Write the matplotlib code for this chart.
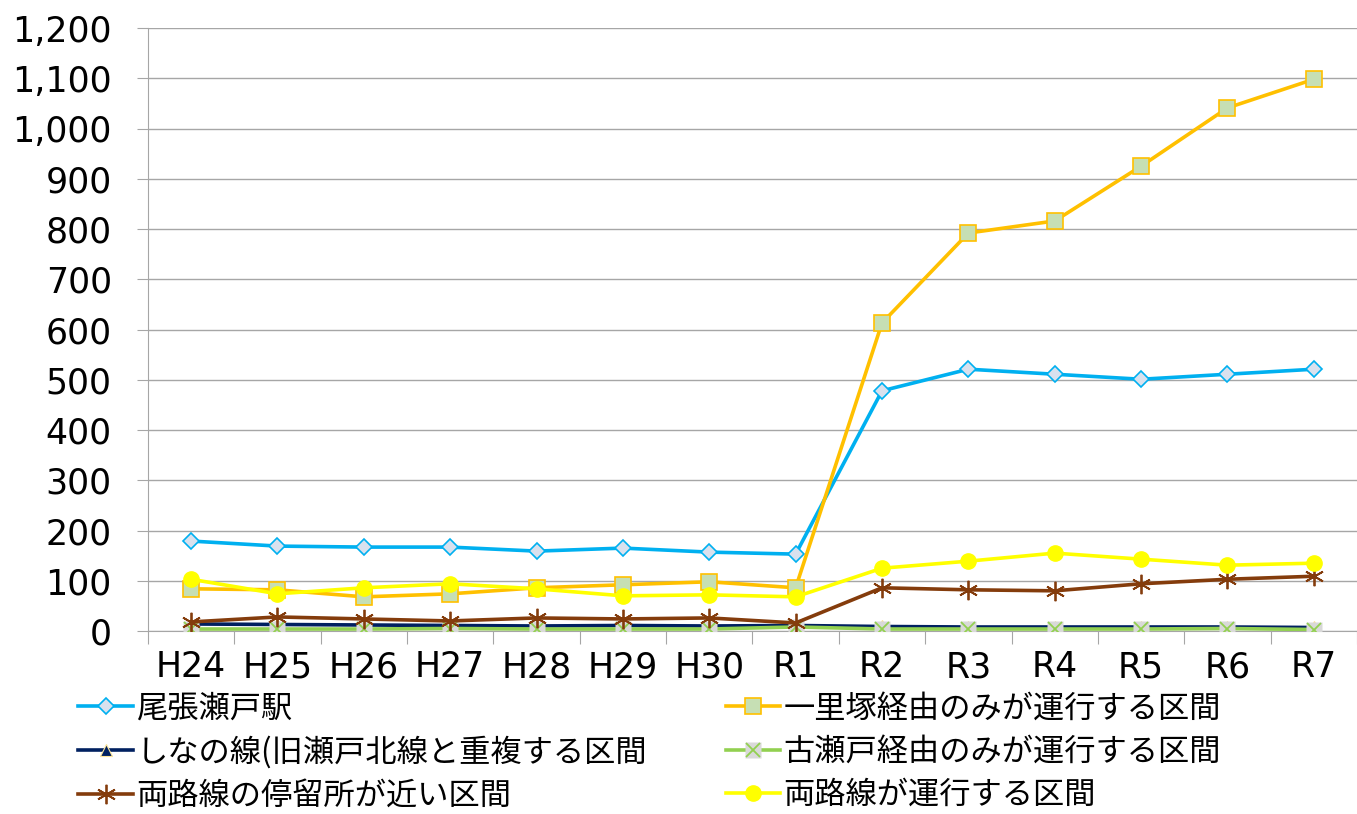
import matplotlib.pyplot as plt
from matplotlib.ticker import FuncFormatter, FixedLocator

plt.rcParams['font.family'] = ['Noto Sans CJK JP', 'DejaVu Sans']

years = ['H24', 'H25', 'H26', 'H27', 'H28', 'H29', 'H30',
         'R1', 'R2', 'R3', 'R4', 'R5', 'R6', 'R7']

owari_seto = [179, 169, 167, 167, 159, 165, 157, 153, 478, 521, 511, 501, 511, 521]
ichirizuka = [84, 82, 68, 74, 86, 92, 98, 86, 613, 792, 816, 925, 1041, 1098]
shinano = [14, 13, 12, 11, 10, 11, 10, 11, 9, 8, 8, 8, 8, 7]
koseto = [4, 4, 4, 5, 4, 4, 4, 8, 4, 4, 4, 4, 5, 3]
near_stops = [18, 28, 24, 20, 26, 24, 26, 16, 86, 82, 80, 94, 103, 109]
both_lines = [103, 74, 86, 94, 84, 70, 72, 68, 125, 139, 155, 143, 131, 135]

labels = ['尾張瀬戸駅', '一里塚経由のみが運行する区間',
          'しなの線(旧瀬戸北線と重複する区間', '古瀬戸経由のみが運行する区間',
          '両路線の停留所が近い区間', '両路線が運行する区間']

fig = plt.figure(figsize=(13.57, 8.14), dpi=100)
ax = fig.add_axes([0.109, 0.2248, 0.891, 0.7408])
x = list(range(len(years)))
lw = 2.6

h1, = ax.plot(x, owari_seto, color='#00b0f0', lw=lw, marker='D', ms=8,
              mfc='#d9e1ee', mec='#00b0f0', mew=1.2, zorder=5)
h2, = ax.plot(x, ichirizuka, color='#ffc000', lw=lw, marker='s', ms=11,
              mfc='#c6dfb4', mec='#ffc000', mew=1.2, zorder=5)
h3, = ax.plot(x, shinano, color='#002060', lw=lw, marker='^', ms=9,
              mfc='#002060', mec='#ffe699', mew=0.8, zorder=4)
h4a, = ax.plot(x, koseto, color='#92d050', lw=lw, marker='s', ms=12,
               mfc='#d9d9d9', mec='none', zorder=4)
h4b, = ax.plot(x, koseto, ls='none', marker='x', ms=10, mec='#92d050',
               mew=1.3, zorder=4)
h5, = ax.plot(x, near_stops, color='#843c0c', lw=lw, marker=(6, 2, 0), ms=14,
              mec='#843c0c', mew=1.3, zorder=5)
h6, = ax.plot(x, both_lines, color='#ffff00', lw=lw, marker='o', ms=11,
              mfc='#ffff00', mec='#ffff00', zorder=5)

ax.set_xlim(-0.5, len(years) - 0.5)
ax.set_ylim(0, 1200)
ax.set_yticks(range(0, 1201, 100))
ax.yaxis.set_major_formatter(FuncFormatter(lambda v, p: f'{int(v):,}'))
ax.grid(axis='y', color='#a6a6a6', lw=1)
ax.set_axisbelow(True)

ax.xaxis.set_major_locator(FixedLocator([i - 0.5 for i in range(len(years) + 1)]))
ax.xaxis.set_minor_locator(FixedLocator(x))
ax.set_xticklabels([])
ax.set_xticklabels(years, minor=True, family='DejaVu Sans')
ax.tick_params(axis='x', which='major', length=9, color='#a6a6a6')
ax.tick_params(axis='x', which='minor', length=0, pad=14, labelsize=25)
ax.tick_params(axis='y', length=8, color='#a6a6a6', labelsize=25, pad=18)
for t in ax.get_yticklabels():
    t.set_family('DejaVu Sans')

for s in ['top', 'right']:
    ax.spines[s].set_visible(False)
for s in ['left', 'bottom']:
    ax.spines[s].set_color('#a6a6a6')

handles = [h1, h2, h3, (h4a, h4b), h5, h6]
order = [0, 2, 4, 1, 3, 5]
leg = fig.legend([handles[i] for i in order], [labels[i] for i in order],
                 loc='lower left', bbox_to_anchor=(0.044, -0.02), ncol=2,
                 frameon=False, fontsize=22.5, handlelength=1.75,
                 handletextpad=0.1, columnspacing=2.52, labelspacing=0.36,
                 borderaxespad=0.2)

fig.savefig('out.png', dpi=100)
